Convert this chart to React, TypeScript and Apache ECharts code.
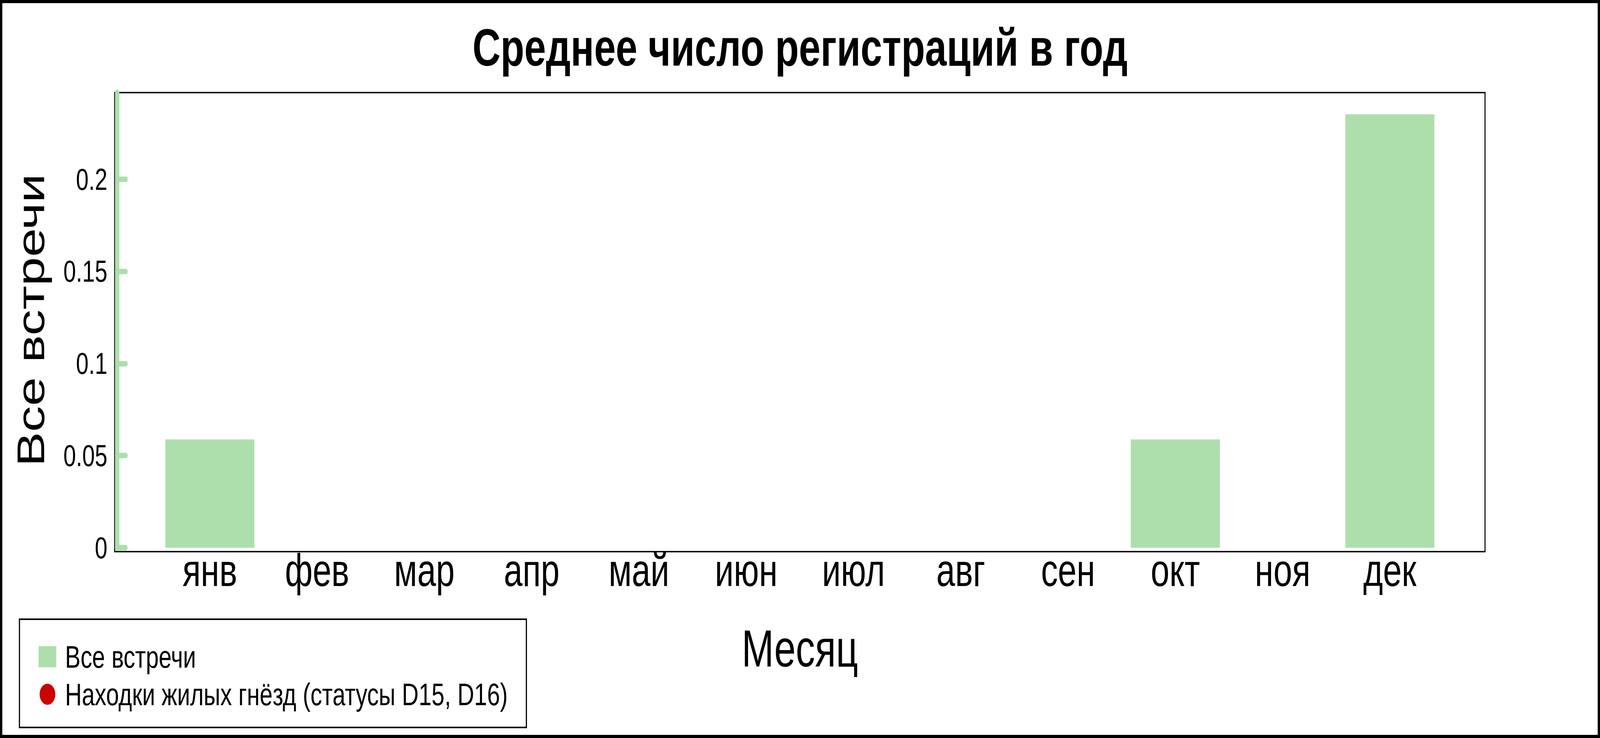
import React, { useEffect, useRef } from "react";
import * as echarts from "echarts";

const FONT = "'Liberation Sans', Arial, sans-serif";
const GREEN = "#addfad";
const RED = "#cc0000";

const months = ["янв", "фев", "мар", "апр", "май", "июн", "июл", "авг", "сен", "окт", "ноя", "дек"];
const allSightings = [0.0588, 0, 0, 0, 0, 0, 0, 0, 0, 0.0588, 0, 0.2353];
const nestFinds: number[] = [];
const yTicks = [0, 0.05, 0.1, 0.15, 0.2];

const seriesNames = ["Все встречи", "Находки жилых гнёзд (статусы D15, D16)"];

// size of the reference picture; the drawing is fitted to the real window
const DW = 5511;
const DH = 1889;

export default function App() {
  const ref = useRef<HTMLDivElement>(null);
  const sx = typeof window !== "undefined" ? window.innerWidth / DW : 1;
  const sy = typeof window !== "undefined" ? window.innerHeight / DH : 1;

  useEffect(() => {
    if (!ref.current) return;
    const chart = echarts.init(ref.current, undefined, { renderer: "svg", width: DW, height: DH });
    const yMax = Math.max(...allSightings) * 1.05;

    chart.setOption({
      animation: false,
      backgroundColor: "#ffffff",
      textStyle: { fontFamily: FONT },
      title: {
        text: "Среднее число регистраций в год",
        left: "center",
        top: 54,
        padding: 0,
        textStyle: { fontSize: 134, fontWeight: "bold", color: "#000", fontFamily: FONT },
      },
      legend: {
        orient: "vertical",
        left: 67,
        top: 1585,
        padding: [56, 64, 45, 66],
        itemGap: 16,
        itemWidth: 61,
        itemHeight: 54,
        borderColor: "#000",
        borderWidth: 4,
        backgroundColor: "#fff",
        selectedMode: false,
        formatter: (n: string) => `{t|${n}}`,
        textStyle: {
          fontSize: 80,
          color: "#000",
          fontFamily: FONT,
          rich: { t: { fontSize: 80, color: "#000", fontFamily: FONT, padding: [0, 0, 0, 25] } },
        },
        data: [
          { name: seriesNames[0], icon: "rect" },
          { name: seriesNames[1], icon: "circle" },
        ],
      },
      grid: [
        {
          left: 395,
          right: 396,
          top: 237,
          bottom: 477,
          show: true,
          borderColor: "#000",
          borderWidth: 3.5,
          backgroundColor: "transparent",
        },
        { left: 538, right: 539, top: 237, bottom: 487 },
      ],
      xAxis: [
        { gridIndex: 0, type: "value", show: false, min: 0, max: 1 },
        {
          gridIndex: 1,
          type: "category",
          data: months,
          boundaryGap: true,
          axisLine: { show: false },
          axisTick: { show: false },
          axisLabel: { fontSize: 116, color: "#000", margin: 0, interval: 0, fontFamily: FONT },
          splitLine: { show: false },
          name: "Месяц",
          nameLocation: "middle",
          nameGap: 192,
          nameTextStyle: { fontSize: 133, color: "#000", fontFamily: FONT },
        },
      ],
      yAxis: [
        { gridIndex: 0, type: "value", show: false, min: 0, max: 1 },
        {
          gridIndex: 1,
          type: "value",
          min: 0,
          max: yMax,
          offset: 135,
          axisLine: { show: true, lineStyle: { color: GREEN, width: 15, cap: "round" } },
          axisTick: {
            show: true,
            inside: true,
            length: 30,
            customValues: yTicks,
            lineStyle: { color: GREEN, width: 14, cap: "round" },
          },
          axisLabel: {
            customValues: yTicks,
            fontSize: 78,
            color: "#000",
            margin: 33,
            fontFamily: FONT,
          },
          splitLine: { show: false },
          name: "Все встречи",
          nameLocation: "middle",
          nameGap: 231,
          nameTextStyle: { fontSize: 133, color: "#000", fontFamily: FONT },
        },
      ],
      series: [
        {
          type: "bar",
          name: seriesNames[0],
          xAxisIndex: 1,
          yAxisIndex: 1,
          data: allSightings,
          barWidth: "83%",
          itemStyle: { color: GREEN },
        },
        {
          type: "scatter",
          name: seriesNames[1],
          xAxisIndex: 1,
          yAxisIndex: 1,
          data: nestFinds,
          itemStyle: { color: RED, opacity: 1 },
        },
      ],
      graphic: [
        {
          type: "rect",
          z: 100,
          silent: true,
          shape: { x: 4, y: 4, width: DW - 8, height: DH - 8 },
          style: { fill: "none", stroke: "#000", lineWidth: 8 },
        },
      ],
    });

    return () => chart.dispose();
  }, []);

  return (
    <div
      style={{ position: "fixed", left: 0, top: 0, width: "100vw", height: "100vh", overflow: "hidden", background: "#fff" }}
    >
      <div
        ref={ref}
        style={{
          position: "absolute",
          left: 0,
          top: 0,
          width: DW,
          height: DH,
          transformOrigin: "0 0",
          transform: `scale(${sx}, ${sy})`,
        }}
      />
    </div>
  );
}
